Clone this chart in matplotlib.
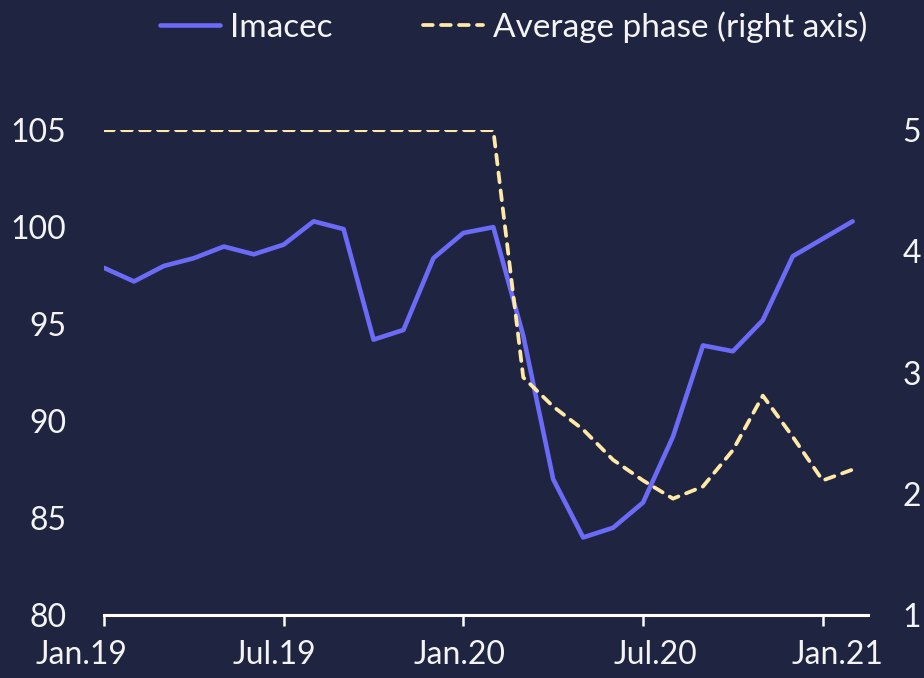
import matplotlib
matplotlib.use("Agg")
import matplotlib.pyplot as plt
import matplotlib.transforms as mtransforms
import numpy as np

# months Jan.19 .. Feb.21
months = ["Jan.19", "Feb.19", "Mar.19", "Apr.19", "May.19", "Jun.19", "Jul.19",
          "Aug.19", "Sep.19", "Oct.19", "Nov.19", "Dec.19", "Jan.20", "Feb.20",
          "Mar.20", "Apr.20", "May.20", "Jun.20", "Jul.20", "Aug.20", "Sep.20",
          "Oct.20", "Nov.20", "Dec.20", "Jan.21", "Feb.21"]

imacec = [97.9, 97.2, 98.0, 98.4, 99.0, 98.6, 99.1, 100.3, 99.9, 94.2, 94.7,
          98.4, 99.7, 100.0, 94.4, 87.0, 84.0, 84.5, 85.8, 89.2, 93.9, 93.6,
          95.2, 98.5, 99.4, 100.3]

avg_phase = [5, 5, 5, 5, 5, 5, 5, 5, 5, 5, 5, 5, 5, 5,
             2.96, 2.72, 2.53, 2.28, 2.11, 1.96, 2.06, 2.36, 2.81, 2.47, 2.11, 2.20]

tick_pos = [0, 6, 12, 18, 24]
tick_labels = ["Jan.19", "Jul.19", "Jan.20", "Jul.20", "Jan.21"]

bg = "#1f2440"
blue = "#6b6bf7"
yellow = "#ffe9a6"
txt = "#f4f4f4"

plt.rcParams['font.family'] = ['Lato', 'DejaVu Sans']

fig = plt.figure(figsize=(9.24, 6.78), dpi=100, facecolor=bg)
ax = fig.add_axes([0.1126, 0.0929, 0.939 - 0.1126, 0.808 - 0.0929])
ax.set_facecolor(bg)
ax2 = ax.twinx()

x = np.arange(len(months))
l1, = ax.plot(x, imacec, color=blue, lw=3.3, solid_joinstyle='round',
              solid_capstyle='round', label="Imacec", zorder=3)
l2, = ax2.plot(x, avg_phase, color=yellow, lw=2.7, linestyle=(0, (2.6, 2.2)),
               dash_capstyle='round', label="Average phase (right axis)", zorder=2)

ax.set_xlim(0, 25.5)
ax.set_ylim(80, 105)
ax2.set_ylim(1, 5)
ax.set_yticks([80, 85, 90, 95, 100, 105])
ax2.set_yticks([1, 2, 3, 4, 5])

for a in (ax, ax2):
    for s in a.spines.values():
        s.set_visible(False)
ax.spines['bottom'].set_visible(True)
ax.spines['bottom'].set_color('white')
ax.spines['bottom'].set_linewidth(2.2)

ax.set_xticks(tick_pos)
ax.set_xticklabels(tick_labels)
ax.tick_params(axis='x', colors='white', labelcolor=txt, length=8, width=1.8,
               labelsize=23, pad=10)
ax.tick_params(axis='y', colors=txt, length=0, labelsize=23, pad=27)
ax2.tick_params(axis='y', colors=txt, length=0, labelsize=23, pad=25)

# labels in the original are spread a bit wider than the ticks
shifts = [-23, -9, -4, 12, 15]
for lab, dx in zip(ax.get_xticklabels(), shifts):
    lab.set_transform(lab.get_transform() +
                      mtransforms.ScaledTranslation(dx / 100, 0, fig.dpi_scale_trans))

fig.legend(handles=[l1, l2], loc='center', bbox_to_anchor=(0.556, 0.96),
           ncol=2, frameon=False, fontsize=24, labelcolor=txt,
           handlelength=1.8, handletextpad=0.3, columnspacing=2.7)

fig.savefig("out.png", dpi=100, facecolor=bg)
